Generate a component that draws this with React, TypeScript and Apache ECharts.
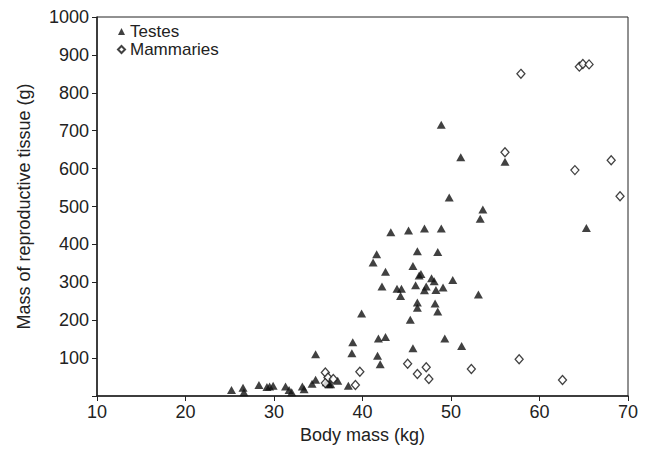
import React, { useEffect, useRef } from "react";
import * as echarts from "echarts";

const testes: [number, number][] = [
  [25.2, 16], [26.5, 22], [26.6, 10], [28.3, 29], [29.2, 24], [29.5, 25], [29.9, 27],
  [31.3, 25], [31.7, 16], [32.0, 10], [33.2, 25], [33.4, 18], [34.3, 32], [34.7, 43],
  [34.7, 110], [35.9, 36], [36.1, 36], [36.2, 31], [36.4, 31], [37.2, 40], [38.4, 27],
  [38.8, 113], [38.9, 142], [39.9, 218], [41.2, 352], [41.6, 374], [41.7, 106], [41.8, 152],
  [42.0, 84], [42.2, 289], [42.6, 328], [42.6, 156], [43.2, 432], [43.9, 283], [44.3, 264],
  [44.4, 283], [45.2, 437], [45.4, 201], [45.7, 343], [45.7, 126], [46.0, 292], [46.2, 382],
  [46.2, 247], [46.2, 233], [46.4, 318], [46.6, 322], [47.0, 442], [47.0, 279], [47.2, 289],
  [47.8, 311], [48.1, 303], [48.2, 244], [48.3, 280], [48.5, 380], [48.5, 223], [48.9, 442],
  [48.9, 716], [49.1, 286], [49.3, 152], [49.8, 524], [50.2, 306], [51.1, 630], [51.2, 132],
  [53.1, 268], [53.3, 468], [53.6, 492], [56.1, 618], [65.3, 443],
];

const mammaries: [number, number][] = [
  [35.8, 62], [36.1, 49], [35.8, 34], [36.7, 45], [39.2, 29], [39.7, 64], [45.1, 85],
  [46.2, 58], [47.2, 76], [47.5, 45], [52.3, 71], [56.1, 643], [57.7, 97], [57.9, 850],
  [62.6, 42], [64.0, 596], [64.5, 869], [64.9, 876], [65.6, 875], [68.1, 622], [69.1, 527],
];

const xTitle = "Body mass (kg)";
const yTitle = "Mass of reproductive tissue (g)";
const seriesNames = ["Testes", "Mammaries"];

const FONT = "'Liberation Sans', Arial, sans-serif";
const TXT = "#222";
const FS = 18;

export default function App() {
  const ref = useRef<HTMLDivElement>(null);
  useEffect(() => {
    if (!ref.current) return;
    const chart = echarts.init(ref.current, undefined, { renderer: "svg" });
    chart.setOption({
      animation: false,
      backgroundColor: "#fff",
      textStyle: { fontFamily: FONT },
      grid: {
        left: 97,
        right: 18,
        top: 17,
        bottom: 52,
        show: true,
        borderColor: "#222",
        borderWidth: 1,
        backgroundColor: "transparent",
      },
      legend: {
        left: 117,
        top: 23,
        padding: 0,
        orient: "vertical",
        itemWidth: 7,
        itemHeight: 7,
        itemGap: 1,
        textStyle: { fontSize: 17, lineHeight: 17, color: TXT, fontFamily: FONT },
        data: seriesNames,
      },
      xAxis: {
        type: "value",
        min: 10,
        max: 70,
        interval: 10,
        name: xTitle,
        nameLocation: "middle",
        nameGap: 30,
        nameTextStyle: { fontSize: FS, color: TXT, fontFamily: FONT },
        axisLine: { show: true, onZero: false, lineStyle: { color: "#222", width: 1.5 } },
        axisTick: { show: true, length: 5, lineStyle: { color: "#222" } },
        axisLabel: { fontSize: FS, color: TXT, fontFamily: FONT, margin: 7 },
        splitLine: { show: false },
      },
      yAxis: {
        type: "value",
        min: 0,
        max: 1000,
        interval: 100,
        name: yTitle,
        nameLocation: "middle",
        nameGap: 64,
        nameTextStyle: { fontSize: FS, color: TXT, fontFamily: FONT },
        axisLine: { show: true, onZero: false, lineStyle: { color: "#222", width: 1.5 } },
        axisTick: { show: true, length: 5, lineStyle: { color: "#222" } },
        axisLabel: {
          fontSize: FS,
          color: TXT,
          fontFamily: FONT,
          margin: 8,
          formatter: (v: number) => (v === 0 ? "" : String(v)),
        },
        splitLine: { show: false },
      },
      series: [
        {
          name: seriesNames[0],
          type: "scatter",
          symbol: "triangle",
          symbolSize: [9, 8],
          itemStyle: { color: "#111" },
          data: testes,
        },
        {
          name: seriesNames[1],
          type: "scatter",
          symbol: "diamond",
          symbolSize: [8, 9],
          itemStyle: { color: "#fff", borderColor: "#111", borderWidth: 1.3 },
          data: mammaries,
        },
      ],
    });
    return () => chart.dispose();
  }, []);
  return <div ref={ref} style={{ width: 646, height: 449, position: "absolute", left: 0, top: 0 }} />;
}
